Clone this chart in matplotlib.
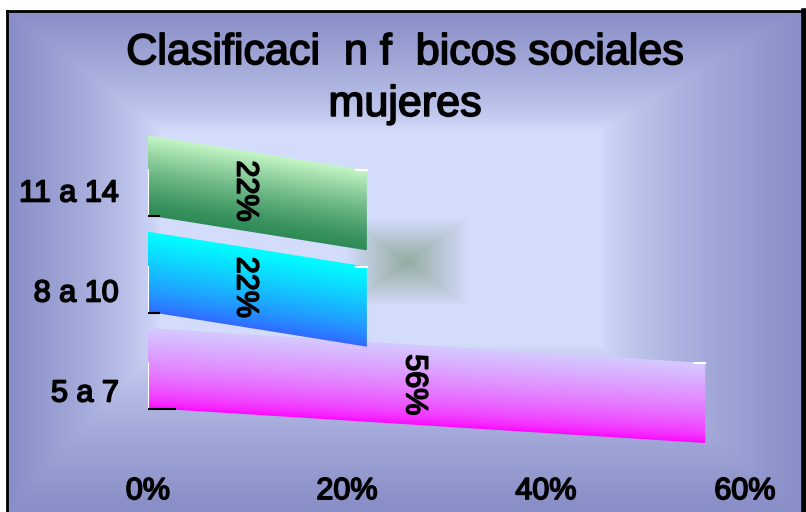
import numpy as np
import matplotlib
matplotlib.use("Agg")
import matplotlib.pyplot as plt
from matplotlib.patches import Polygon, Rectangle
from matplotlib.colors import to_rgb
import matplotlib.patheffects as pe

plt.rcParams['font.family'] = ['Liberation Sans', 'DejaVu Sans']

# data
categories = ['5 a 7', '8 a 10', '11 a 14']
values = [56, 22, 22]
value_labels = ['56%', '22%', '22%']
x_ticks = [0, 20, 40, 60]
x_tick_labels = ['0%', '20%', '40%', '60%']
title = 'Clasificaci  n f  bicos sociales\nmujeres'
top_colors = ['#d4caff', '#00ffff', '#c8f8c8']
bottom_colors = ['#ff00ff', '#3366ff', '#2e8b57']
gammas = [0.6, 0.8, 1.3]   # how fast the light top colour gives way

W, H = 806, 512
fig = plt.figure(figsize=(W / 100, H / 100), dpi=100)
thick = [pe.withStroke(linewidth=1.2, foreground='black')]

# background: rectangular gradient, light in the middle
bg = fig.add_axes([0, 0, 1, 1])
bg.set_xlim(0, W)
bg.set_ylim(H, 0)
bg.axis('off')
yy, xx = np.mgrid[0:H, 0:W] + 0.5
zero = np.zeros_like(xx)
dx = np.maximum.reduce([zero, (160 - xx) / 152, (xx - 600) / 201])
dy = np.maximum.reduce([zero, (130 - yy) / 120, (yy - 345) / 165])
d = np.clip(np.maximum(dx, dy), 0, 1) ** 0.7
light = np.array([212, 220, 252]) / 255
dark = np.array([136, 142, 198]) / 255
img = light * (1 - d[..., None]) + dark * d[..., None]
bg.imshow(img, extent=(0, W, H, 0), interpolation='bilinear', aspect='auto')
bg.add_patch(Rectangle((0, 0), W, 10, color='white', zorder=3))
bg.add_patch(Rectangle((0, 0), 6, H, color='white', zorder=3))
bg.plot([7, 7], [11, H], color='black', lw=2, zorder=4)
bg.plot([7, 803], [11, 11], color='black', lw=2, zorder=4)
bg.plot([803.5, 803.5], [11, H], color='black', lw=4, zorder=4)

fig.text(405 / W, 1 - 79 / H, title, ha='center', va='center', fontsize=31,
         linespacing=1.38, path_effects=thick)

# plot area
px_per_pct = 9.95
ax = fig.add_axes([148 / W, 1 - 465 / H, 622 / W, 335 / H])
ax.patch.set_alpha(0)
for s in ax.spines.values():
    s.set_visible(False)

drop = 0.35   # fall of the bar towards its end (3D look)
h = 0.8
step = 0.963
off = 0.22

# the blurry shadow square behind the bars
u, v = np.meshgrid(np.linspace(-1, 1, 80), np.linspace(-1, 1, 80))
a = np.clip(1 - np.maximum(np.abs(u), np.abs(v)), 0, 1) * 0.6
blob = np.zeros((80, 80, 4))
blob[..., :3] = np.array([105, 140, 100]) / 255
blob[..., 3] = a
ax.imshow(blob, extent=(19.7, 32.3, 0.83, 1.73), origin='lower', aspect='auto',
          interpolation='bilinear', zorder=1)

for i, (val, lab, tc, bc, g) in enumerate(zip(values, value_labels, top_colors,
                                               bottom_colors, gammas)):
    tc = np.array(to_rgb(tc))
    bc = np.array(to_rgb(bc))
    yc = i * step + off
    y0 = yc - h / 2
    poly = [(0, y0), (0, y0 + h), (val, y0 + h - drop), (val, y0 - drop)]
    xs = np.linspace(0, val, 200)
    ys = np.linspace(y0 - drop, y0 + h, 200)
    X, Y = np.meshgrid(xs, ys)
    t = np.clip((Y - (y0 - drop * X / val)) / h, 0, 1) ** g
    rgb = bc * (1 - t[..., None]) + tc * t[..., None]
    im = ax.imshow(rgb, extent=(0, val, y0 - drop, y0 + h), origin='lower',
                   aspect='auto', interpolation='bilinear', zorder=2)
    patch = Polygon(poly, closed=True, facecolor='none', edgecolor='none')
    ax.add_patch(patch)
    im.set_clip_path(patch)

    # white wall edges and black tick
    ax.plot([0, 0], [y0, y0 + h - drop], color='white', lw=1.5, zorder=3)
    ax.plot([val - 1.1, val], [y0 + h - drop] * 2, color='white', lw=1.5, zorder=3)
    ax.plot([0, 0.017 * val / drop], [y0 - 0.01] * 2, color='black', lw=1.5, zorder=3)

    xl = val / 2 - 1.2
    yl = yc - drop * xl / val
    ax.text(xl, yl, lab, rotation=270, ha='center', va='center', fontsize=22,
            zorder=4, path_effects=thick)

ax.set_xlim(0, 622 / px_per_pct)
ax.set_ylim(-0.75, 2.6)
ax.set_xticks(x_ticks, x_tick_labels)
ax.set_yticks(range(len(categories)), categories)
ax.tick_params(length=0, labelsize=22)
ax.tick_params(axis='x', pad=8)
ax.tick_params(axis='y', pad=21)
for lbl in ax.get_xticklabels() + ax.get_yticklabels():
    lbl.set_path_effects(thick)

fig.savefig('out.png', dpi=100)
